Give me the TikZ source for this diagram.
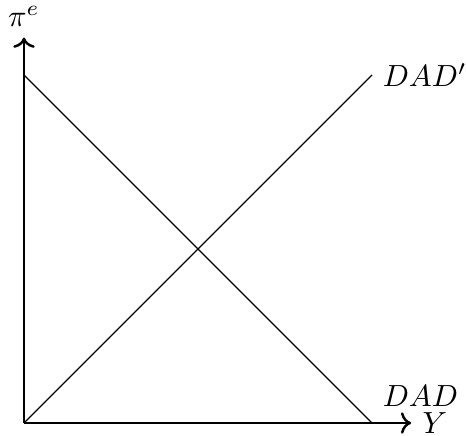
\documentclass[tikz,border=0pt]{standalone}
\usepackage{amsmath,amssymb}
\usepackage{tikz}
\usetikzlibrary{arrows.meta,calc,positioning}

\begin{document}
\begin{tikzpicture}
  \useasboundingbox (-0.276,-0.149) rectangle (5.080,4.862);
  \coordinate (O) at (0,0);
  \coordinate (Ytip) at (4.45,0);
  \coordinate (Ptip) at (0,4.43);
  \coordinate (Dtop) at (0,4);
  \coordinate (Dbot) at (4,0);
  \coordinate (Dprime) at (4,4);
  \draw[thick,->] (O)--(Ytip) node[right] (Ylab) {$Y$};
  \draw[thick,->] (O)--(Ptip) node[above] (Plab) {$\pi^e$};
  \draw (Dtop)--(Dbot) node[above right,yshift=2pt] (Dlab) {$DAD$};
  \draw (O)--(Dprime) node[right] (Dplab) {$DAD'$};
\end{tikzpicture}
\end{document}
